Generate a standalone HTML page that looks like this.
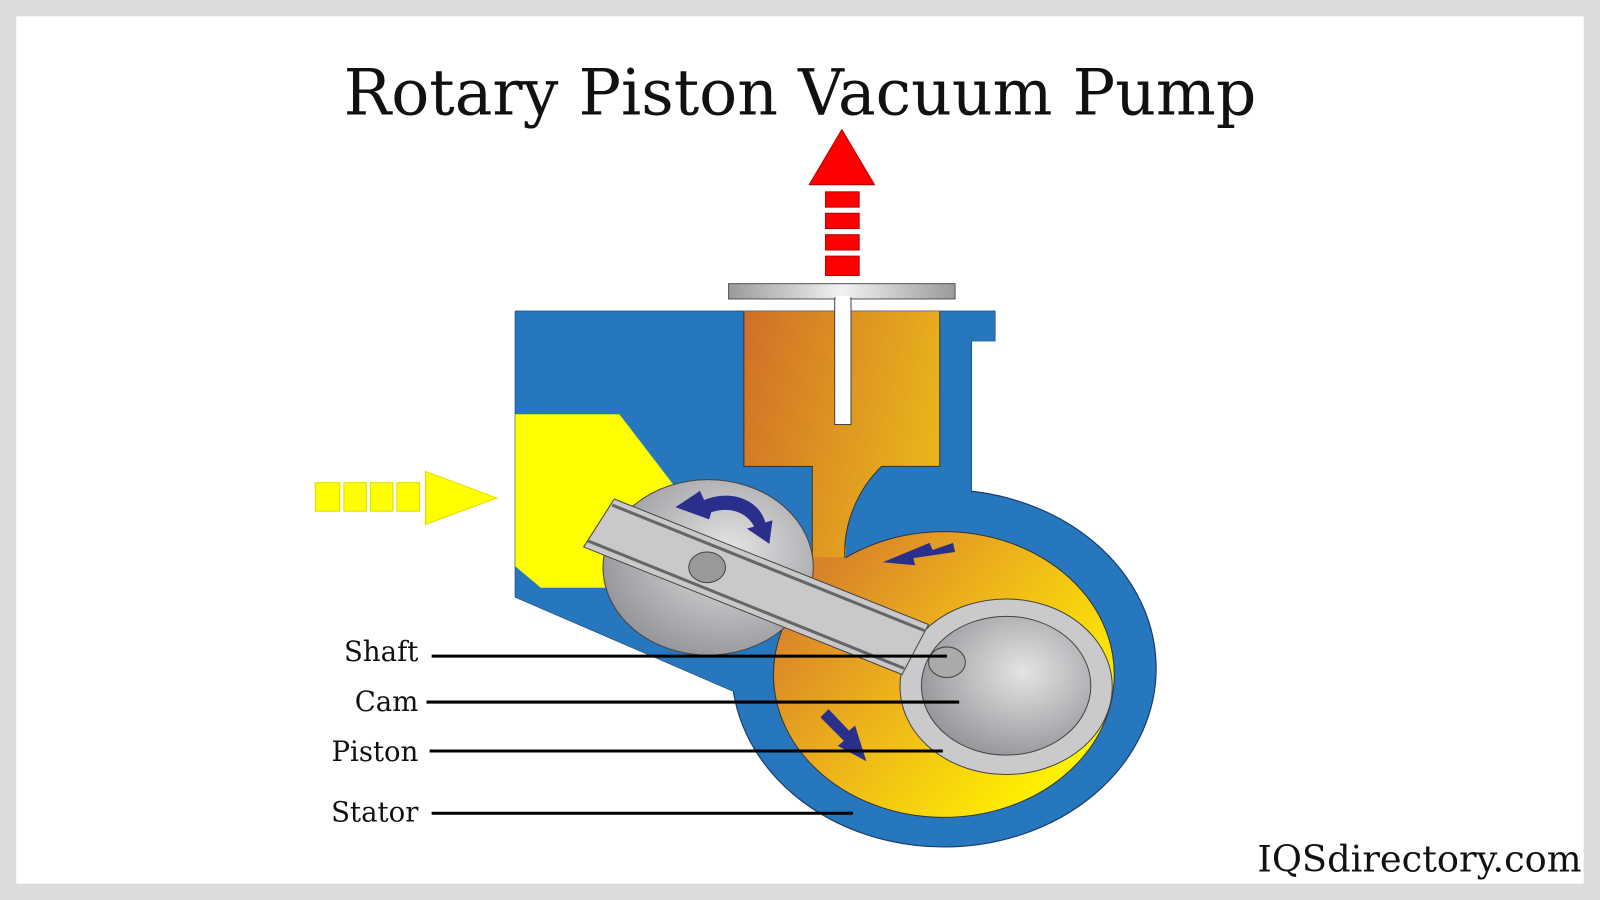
<!DOCTYPE html>
<html><head><meta charset="utf-8"><style>
html,body{margin:0;padding:0;background:#dcdcdc}
svg{display:block}
</style></head><body>
<svg width="1600" height="900" viewBox="0 0 1568 882" preserveAspectRatio="none" xmlns="http://www.w3.org/2000/svg">
<defs>
<linearGradient id="org" x1="0" y1="0" x2="1" y2="0.3"><stop offset="0" stop-color="#d06f28"/><stop offset="1" stop-color="#e8b21c"/></linearGradient>
<linearGradient id="yel" gradientUnits="userSpaceOnUse" x1="791" y1="577" x2="1025" y2="773"><stop offset="0" stop-color="#d8832a"/><stop offset="0.45" stop-color="#eeb51a"/><stop offset="1" stop-color="#fff200"/></linearGradient>
<radialGradient id="gb" cx="0.6" cy="0.4" r="0.7"><stop offset="0" stop-color="#e4e4e6"/><stop offset="1" stop-color="#8f8f93"/></radialGradient>
<linearGradient id="pl" x1="0" y1="0" x2="1" y2="0"><stop offset="0" stop-color="#9a9a9a"/><stop offset="0.5" stop-color="#f2f2f2"/><stop offset="1" stop-color="#9a9a9a"/></linearGradient>
</defs>
<rect x="0" y="0" width="1568" height="882" fill="#dcdcdc"/>
<rect x="16" y="16" width="1536" height="850" fill="#fff"/>
<text x="784" y="112" text-anchor="middle" font-family="DejaVu Serif, Liberation Serif, serif" font-size="62" fill="#111">Rotary Piston Vacuum Pump</text>

<polygon points="825,127 793,181 857,181" fill="#f00" stroke="#b00" stroke-width="1"/>
<g fill="#f00" stroke="#b00"><rect x="809" y="188" width="33" height="15"/><rect x="809" y="209" width="33" height="15"/><rect x="809" y="230" width="33" height="15"/><rect x="809" y="251" width="33" height="19"/></g>
<g fill="#ff0" stroke="#dd0"><rect x="309" y="473" width="24" height="28"/><rect x="337" y="473" width="22" height="28"/><rect x="363" y="473" width="22" height="28"/><rect x="389" y="473" width="22" height="28"/>
<polygon points="417,462 417,514 487,488"/></g>

<ellipse cx="925" cy="655" rx="208" ry="175" fill="#2777be" stroke="#1b3f6e" stroke-width="1.2"/>
<path d="M505,305 L975,305 L975,334 L952,334 L952,487" fill="none" stroke="#1b3f6e" stroke-width="1.2"/>
<path d="M505,305 L505,585 L718,677" fill="none" stroke="#1b3f6e" stroke-width="1.2"/>
<path d="M505,305 L975,305 L975,334 L952,334 L952,484 L1000,500 L960,600 L760,710 L718,677 L505,585 Z" fill="#2777be"/>
<ellipse cx="925" cy="661" rx="167" ry="140" fill="url(#yel)" stroke="#333" stroke-width="1"/>
<path d="M795,535 L829,535 L829,548 L845,565 L795,585 Z" fill="url(#yel)"/>
<path d="M729,305 L921,305 L921,457 L864,457 C840,480 826,515 828,546 L796,546 L796,457 L729,457 Z" fill="url(#org)"/>
<path d="M729,305 L729,457 L796,457 L796,575 M921,305 L921,457 L864,457 C840,480 826,515 828,547" fill="none" stroke="#333" stroke-width="1"/>
<rect x="714" y="278" width="222" height="15" fill="url(#pl)" stroke="#555"/>
<path d="M818,292 L818,416 L834,416 L834,292 Z" fill="#fff" stroke="#444"/>
<rect x="819" y="290" width="14" height="6" fill="#fff"/>
<polygon points="505,406 607,406 660,475 640,576 530,576 505,555" fill="#ff0"/>
<ellipse cx="694" cy="556" rx="103" ry="86" fill="url(#gb)" stroke="#444"/>
<ellipse cx="986" cy="673" rx="104" ry="86" fill="#cacacc" stroke="#444"/>
<polygon points="602,489 910,612 884,661 572,536" fill="#c9c9cb" stroke="#444"/>
<path d="M600,495 L906,618 M576,530 L886,655" stroke="#666" stroke-width="3"/>
<ellipse cx="986" cy="672" rx="83" ry="68" fill="url(#gb)" stroke="#444"/>
<ellipse cx="693" cy="556" rx="18" ry="15" fill="#999" stroke="#444"/>
<ellipse cx="928" cy="649" rx="18" ry="15" fill="#aaa" stroke="#444"/>
<g fill="#2b2f8c">
<path d="M690,490 C717,479 744,490 750,512 L757,510 L754,533 L732,518 L739,516 C732,502 715,496 697,502 L695,509 L662,497 L686,481 Z"/>
<path d="M934,532 L914,539 L911,532 L865,551 L897,554 L895,547 L936,541 Z"/>
<path d="M804,703 L812,695 L832,716 L838,711 L849,746 L821,731 L827,726 Z"/>
</g>
<g stroke="#000" stroke-width="3">
<line x1="423" y1="643" x2="928" y2="643"/>
<line x1="418" y1="688" x2="940" y2="688"/>
<line x1="421" y1="736" x2="924" y2="736"/>
<line x1="423" y1="797" x2="836" y2="797"/>
</g>
<g font-family="DejaVu Serif, Liberation Serif, serif" font-size="27" fill="#111" text-anchor="end">
<text x="410" y="648">Shaft</text>
<text x="410" y="697">Cam</text>
<text x="410" y="746">Piston</text>
<text x="410" y="805">Stator</text>
</g>
<text x="1550" y="854" text-anchor="end" font-family="DejaVu Serif, Liberation Serif, serif" font-size="36" fill="#111">IQSdirectory.com</text>
</svg>
</body></html>
